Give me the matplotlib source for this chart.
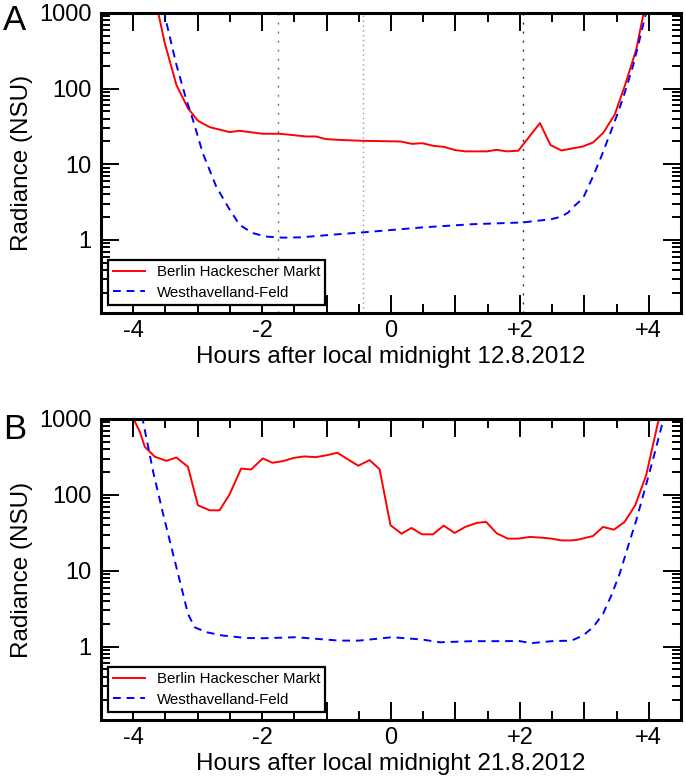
import matplotlib
matplotlib.use("Agg")
import matplotlib.pyplot as plt
import numpy as np
from matplotlib.ticker import FixedLocator, MultipleLocator, LogLocator, NullFormatter

plt.rcParams['font.family'] = ['Liberation Sans', 'DejaVu Sans']

# panel A, 12.8.2012
berlin_a_x = [-3.64, -3.51, -3.33, -3.15, -2.996, -2.815, -2.506, -2.35, -1.99, -1.733,
              -1.58, -1.32, -1.166, -1.01, -0.806, -0.435, 0.147, 0.327, 0.482, 0.662,
              0.817, 0.997, 1.152, 1.487, 1.641, 1.796, 1.976, 2.311, 2.476, 2.645,
              2.80, 2.98, 3.135, 3.29, 3.47, 3.625, 3.805, 3.92, 3.95]
berlin_a_y = [1300, 400, 112, 55, 37.6, 31.0, 26.6, 27.7, 25.3, 25.3,
              24.6, 23.3, 23.3, 21.5, 21.0, 20.4, 20.0, 18.6, 19.0, 17.5,
              17.0, 15.4, 14.8, 14.8, 15.5, 14.8, 15.1, 35.0, 17.9, 15.2,
              16.1, 17.2, 19.4, 25.8, 45, 107, 327, 1000, 1200]

west_a_x = [-3.52, -3.495, -3.33, -3.175, -3.073, -2.92, -2.712, -2.532, -2.35, -2.146,
            -1.94, -1.68, -1.4, -0.806, -0.42, 0.48, 1.255, 2.05, 2.49, 2.645,
            2.75, 2.826, 2.98, 3.135, 3.264, 3.393, 3.52, 3.625, 3.753, 3.857,
            3.944, 3.98]
west_a_y = [1100, 815, 207, 71, 38.7, 14.0, 5.08, 2.76, 1.58, 1.23,
            1.106, 1.07, 1.08, 1.19, 1.26, 1.46, 1.61, 1.70, 1.88, 2.03,
            2.3, 2.71, 3.56, 6.9, 12.7, 24.5, 47.5, 87, 196, 443,
            900, 1100]

# panel B, 21.8.2012
berlin_b_x = [-4.02, -3.897, -3.82, -3.665, -3.485, -3.33, -3.15, -2.996, -2.815, -2.66,
              -2.506, -2.325, -2.17, -1.99, -1.837, -1.68, -1.50, -1.347, -1.166, -0.987,
              -0.832, -0.65, -0.507, -0.332, -0.177, -0.007, 0.163, 0.317, 0.482, 0.652,
              0.817, 0.987, 1.152, 1.332, 1.476, 1.641, 1.811, 1.976, 2.156, 2.337,
              2.491, 2.646, 2.80, 2.903, 3.135, 3.29, 3.46, 3.625, 3.79, 3.96,
              4.14, 4.18]
berlin_b_y = [1100, 679, 430, 318, 281, 311, 234, 73, 62.6, 62.6,
              101, 222, 216, 302, 265, 278, 308, 321, 314, 334,
              359, 287, 242, 287, 218, 39.7, 30.8, 36.6, 30.2, 30.2,
              39.3, 31.5, 37.8, 42.7, 44, 31.1, 26.5, 26.5, 27.9, 27.3,
              26.5, 25.1, 25.1, 25.7, 28.7, 37.8, 34.8, 44, 73, 182,
              875, 1100]

west_b_x = [-3.86, -3.846, -3.69, -3.537, -3.383, -3.253, -3.15, -3.047, -2.867, -2.61,
            -2.25, -1.99, -1.475, -0.806, -0.497, 0.018, 0.224, 0.482, 0.765, 1.255,
            1.77, 1.976, 2.18, 2.49, 2.80, 2.98, 3.135, 3.29, 3.418, 3.548,
            3.676, 3.805, 3.935, 4.063, 4.218, 4.24]
west_b_y = [1100, 921, 201, 56.6, 16.8, 6.1, 2.7, 1.80, 1.55, 1.40,
            1.30, 1.29, 1.33, 1.20, 1.20, 1.33, 1.29, 1.24, 1.14, 1.18,
            1.18, 1.19, 1.11, 1.18, 1.20, 1.40, 1.80, 2.7, 4.7, 9.1,
            20.6, 46, 115, 287, 921, 1100]

event_x = [-1.75, -0.43, 2.05]
event_styles = [(0, (1.5, 5)), (0, (1, 2.5)), (0, (1.5, 5))]
event_colors = ['#777777', '#999999', '#333333']

xtick_pos = [-4, -3, -2, -1, 0, 1, 2, 3, 4]
xtick_lab = ['-4', '', '-2', '', '0', '', '+2', '', '+4']
ytick_pos = [1, 10, 100, 1000]
ytick_lab = ['1', '10', '100', '1000']

dates = ['12.8.2012', '21.8.2012']
letters = ['A', 'B']

fig = plt.figure(figsize=(6.86, 7.83), dpi=100)
ax_a = fig.add_axes([0.1472, 0.6003, 0.8455, 0.3831])
ax_b = fig.add_axes([0.1472, 0.0805, 0.8455, 0.3844])

panels = [(ax_a, berlin_a_x, berlin_a_y, west_a_x, west_a_y),
          (ax_b, berlin_b_x, berlin_b_y, west_b_x, west_b_y)]

for i, (ax, bx, by, wx, wy) in enumerate(panels):
    ax.plot(bx, by, color='#ff0000', lw=1.4, label='Berlin Hackescher Markt')
    ax.plot(wx, wy, color='#0000ff', lw=1.4, ls=(0, (4, 3)), label='Westhavelland-Feld')
    ax.set_yscale('log')
    ax.set_xlim(-4.5, 4.5)
    ax.set_ylim(0.108, 1000)
    ax.xaxis.set_major_locator(FixedLocator(xtick_pos))
    ax.set_xticklabels(xtick_lab)
    ax.xaxis.set_minor_locator(MultipleLocator(0.5))
    ax.yaxis.set_major_locator(FixedLocator(ytick_pos))
    ax.set_yticklabels(ytick_lab)
    ax.yaxis.set_minor_locator(LogLocator(base=10, subs=np.arange(2, 10)))
    ax.yaxis.set_minor_formatter(NullFormatter())
    ax.tick_params(which='both', direction='in', top=True, right=True,
                   labelsize=17, width=1.4)
    ax.tick_params(which='major', length=13)
    ax.tick_params(which='minor', length=6.5)
    ax.tick_params(axis='y', pad=7)
    ax.tick_params(axis='x', pad=5)
    for s in ax.spines.values():
        s.set_linewidth(2.2)
    ax.set_xlabel('Hours after local midnight ' + dates[i], fontsize=17.5, labelpad=3)
    ax.set_ylabel('Radiance (NSU)', fontsize=17.5, labelpad=4)
    leg = ax.legend(loc='lower left', bbox_to_anchor=(0.012, 0.027), borderaxespad=0,
                    fontsize=10.8, fancybox=False, framealpha=1, edgecolor='black',
                    handlelength=2.1, handletextpad=0.8, labelspacing=0.42,
                    borderpad=0.35)
    leg.get_frame().set_linewidth(1.6)

for x, st, c in zip(event_x, event_styles, event_colors):
    ax_a.axvline(x, color=c, lw=1.0, ls=st, zorder=0)

fig.text(0.004, 0.995, letters[0], fontsize=25, ha='left', va='top')
fig.text(0.004, 0.472, letters[1], fontsize=25, ha='left', va='top')

fig.savefig('out.png', dpi=100)
